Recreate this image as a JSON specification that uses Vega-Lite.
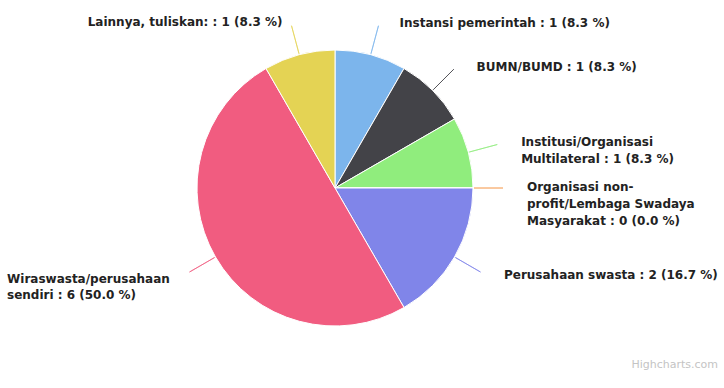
{
  "$schema": "https://vega.github.io/schema/vega-lite/v6.json",
  "width": 670,
  "height": 376,
  "padding": 0,
  "autosize": {"type": "pad"},
  "background": "white",
  "config": {"view": {"stroke": null}},
  "title": {"text": "Highcharts.com", "orient": "bottom", "anchor": "end", "frame": "group", "fontSize": 11, "fontWeight": "normal", "color": "#c4c4c4", "font": "DejaVu Sans", "dx": 48, "dy": -17, "offset": 0},
  "data": {"values": [
    {"category": "Instansi pemerintah", "value": 1, "order": 1, "label": "Instansi pemerintah : 1 (8.3 %)"},
    {"category": "BUMN/BUMD", "value": 1, "order": 2, "label": "BUMN/BUMD : 1 (8.3 %)"},
    {"category": "Institusi/Organisasi Multilateral", "value": 1, "order": 3, "label": "Institusi/Organisasi\nMultilateral : 1 (8.3 %)"},
    {"category": "Organisasi non-profit/Lembaga Swadaya Masyarakat", "value": 0, "order": 4, "label": "Organisasi non-\nprofit/Lembaga Swadaya\nMasyarakat : 0 (0.0 %)"},
    {"category": "Perusahaan swasta", "value": 2, "order": 5, "label": "Perusahaan swasta : 2 (16.7 %)"},
    {"category": "Wiraswasta/perusahaan sendiri", "value": 6, "order": 6, "label": "Wiraswasta/perusahaan\nsendiri : 6 (50.0 %)"},
    {"category": "Lainnya, tuliskan:", "value": 1, "order": 7, "label": "Lainnya, tuliskan: : 1 (8.3 %)"}
  ]},
  "transform": [
    {"stack": "value", "groupby": [], "sort": [{"field": "order", "order": "ascending"}], "as": ["v0", "v1"]},
    {"fold": ["v0", "v1"], "as": ["edge", "ang"]},
    {"aggregate": [{"op": "mean", "field": "ang", "as": "mid"}], "groupby": ["category", "label", "order", "value"]}
  ],
  "layer": [
    {
      "mark": {"type": "arc", "outerRadius": 138, "stroke": "white", "strokeWidth": 1},
      "encoding": {
        "theta": {"field": "value", "type": "quantitative", "stack": true, "scale": {"domain": [0, 12]}},
        "order": {"field": "order", "type": "quantitative"},
        "color": {"field": "category", "type": "nominal", "legend": null,
          "scale": {"domain": ["Instansi pemerintah", "BUMN/BUMD", "Institusi/Organisasi Multilateral", "Organisasi non-profit/Lembaga Swadaya Masyarakat", "Perusahaan swasta", "Wiraswasta/perusahaan sendiri", "Lainnya, tuliskan:"],
                    "range": ["#7cb5ec", "#434348", "#90ed7d", "#f7a35c", "#8085e9", "#f15c80", "#e4d354"]}}
      }
    },
    {
      "mark": {"type": "arc", "filled": false, "radius": 168, "radius2": 139, "strokeWidth": 1, "opacity": 0.7},
      "encoding": {
        "theta": {"field": "mid", "type": "quantitative", "stack": null, "scale": {"domain": [0, 12]}},
        "theta2": {"field": "mid"},
        "color": {"field": "category", "type": "nominal", "legend": null}
      }
    },
    {
      "transform": [{"filter": {"field": "category", "oneOf": ["Instansi pemerintah", "BUMN/BUMD", "Perusahaan swasta"]}}],
      "mark": {"type": "text", "radius": 172, "align": "left", "baseline": "middle", "dx": 20, "dy": 1, "font": "DejaVu Sans", "fontWeight": "bold", "fontSize": 12, "fill": "#222"},
      "encoding": {
        "theta": {"field": "mid", "type": "quantitative", "stack": null, "scale": {"domain": [0, 12]}},
        "text": {"field": "label"}
      }
    },
    {
      "transform": [{"filter": {"field": "category", "oneOf": ["Institusi/Organisasi Multilateral", "Organisasi non-profit/Lembaga Swadaya Masyarakat"]}}],
      "mark": {"type": "text", "radius": 172, "align": "left", "baseline": "top", "dx": 20, "dy": -6, "lineBreak": "\n", "lineHeight": 17, "font": "DejaVu Sans", "fontWeight": "bold", "fontSize": 12, "fill": "#222"},
      "encoding": {
        "theta": {"field": "mid", "type": "quantitative", "stack": null, "scale": {"domain": [0, 12]}},
        "text": {"field": "label"}
      }
    },
    {
      "transform": [{"filter": {"field": "category", "oneOf": ["Lainnya, tuliskan:"]}}],
      "mark": {"type": "text", "radius": 172, "align": "right", "baseline": "middle", "dx": -8, "dy": 0, "font": "DejaVu Sans", "fontWeight": "bold", "fontSize": 12, "fill": "#222"},
      "encoding": {
        "theta": {"field": "mid", "type": "quantitative", "stack": null, "scale": {"domain": [0, 12]}},
        "text": {"field": "label"}
      }
    },
    {
      "transform": [{"filter": {"field": "category", "oneOf": ["Wiraswasta/perusahaan sendiri"]}}],
      "mark": {"type": "text", "radius": 172, "align": "left", "baseline": "top", "dx": -179, "dy": 0, "lineBreak": "\n", "lineHeight": 16, "font": "DejaVu Sans", "fontWeight": "bold", "fontSize": 12, "fill": "#222"},
      "encoding": {
        "theta": {"field": "mid", "type": "quantitative", "stack": null, "scale": {"domain": [0, 12]}},
        "text": {"field": "label"}
      }
    }
  ]
}
